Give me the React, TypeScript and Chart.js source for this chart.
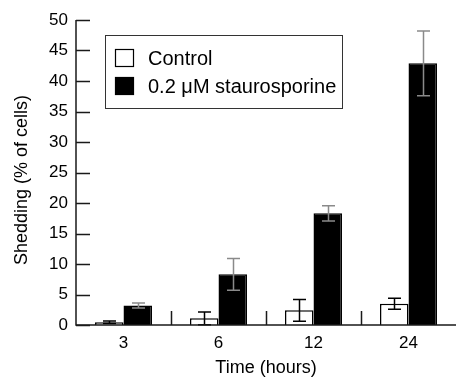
import React, { useEffect, useRef } from "react";
import { Chart, registerables } from "chart.js";

Chart.register(...registerables);

const categories = ["3", "6", "12", "24"];
const controlValues = [0.45, 1.1, 2.4, 3.5];
const controlErrors = [0.2, 1.05, 1.8, 0.9];
const stauroValues = [3.2, 8.3, 18.3, 42.9];
const stauroErrors = [0.4, 2.6, 1.25, 5.3];
const seriesNames = ["Control", "0.2 \u03bcM staurosporine"];
const yTitle = "Shedding (% of cells)";
const xTitle = "Time (hours)";

const FONT = "'Liberation Sans', Arial, sans-serif";

const customPlugin = {
  id: "custom",
  afterDatasetsDraw(chart: any) {
    const ctx = chart.ctx as CanvasRenderingContext2D;
    const area = chart.chartArea;
    const yScale = chart.scales.y;
    const xScale = chart.scales.x;
    const errs = [controlErrors, stauroErrors];
    const vals = [controlValues, stauroValues];
    const errColors = ["#000000", "#8a8a8a"];
    ctx.save();
    // error bars
    [0, 1].forEach((di) => {
      const meta = chart.getDatasetMeta(di);
      meta.data.forEach((el: any, i: number) => {
        const v = vals[di][i];
        const e = errs[di][i];
        const yt = yScale.getPixelForValue(v + e);
        const yb = yScale.getPixelForValue(Math.max(v - e, 0));
        const x = Math.round(el.x) + 0.5;
        ctx.strokeStyle = errColors[di];
        ctx.lineWidth = 1.5;
        ctx.beginPath();
        ctx.moveTo(x, yt);
        ctx.lineTo(x, yb);
        ctx.moveTo(x - 6.5, yt);
        ctx.lineTo(x + 6.5, yt);
        ctx.moveTo(x - 6.5, yb);
        ctx.lineTo(x + 6.5, yb);
        ctx.stroke();
      });
    });
    // axes
    ctx.strokeStyle = "#1a1a1a";
    ctx.lineWidth = 1.5;
    ctx.beginPath();
    ctx.moveTo(area.left, area.top);
    ctx.lineTo(area.left, area.bottom);
    ctx.lineTo(chart.width, area.bottom);
    ctx.stroke();
    // y ticks inward
    ctx.beginPath();
    yScale.ticks.forEach((t: any) => {
      const y = Math.round(yScale.getPixelForValue(t.value)) + 0.5;
      ctx.moveTo(area.left, y);
      ctx.lineTo(area.left + 14, y);
    });
    ctx.stroke();
    // x separators
    ctx.beginPath();
    for (let i = 1; i < categories.length; i++) {
      const x =
        Math.round((xScale.getPixelForValue(i - 1) + xScale.getPixelForValue(i)) / 2) + 0.5;
      ctx.moveTo(x, area.bottom);
      ctx.lineTo(x, area.bottom - 14);
    }
    ctx.stroke();
    // titles
    ctx.fillStyle = "#000";
    ctx.font = `18px ${FONT}`;
    ctx.textAlign = "center";
    ctx.textBaseline = "alphabetic";
    ctx.fillText(xTitle, (area.left + area.right) / 2, 373);
    ctx.save();
    ctx.translate(27, 180);
    ctx.rotate(-Math.PI / 2);
    ctx.fillText(yTitle, 0, 0);
    ctx.restore();
    // legend
    ctx.strokeStyle = "#333";
    ctx.lineWidth = 1;
    ctx.strokeRect(105.5, 35.5, 237, 73);
    const rows = [58, 86];
    const fills = ["#ffffff", "#000000"];
    rows.forEach((cy, i) => {
      ctx.fillStyle = fills[i];
      ctx.fillRect(115, cy - 9, 19, 18);
      ctx.strokeStyle = "#000";
      ctx.lineWidth = 1.2;
      ctx.strokeRect(115.5, cy - 8.5, 18, 17);
      ctx.fillStyle = "#000";
      ctx.font = `20px ${FONT}`;
      ctx.textAlign = "left";
      ctx.textBaseline = "middle";
      ctx.fillText(seriesNames[i], 148, cy + 1);
    });
    ctx.restore();
  },
};

export default function App() {
  const ref = useRef<HTMLCanvasElement>(null);
  useEffect(() => {
    document.body.style.margin = "0";
    document.body.style.overflow = "hidden";
    const chart = new Chart(ref.current!, {
      type: "bar",
      data: {
        labels: categories,
        datasets: [
          {
            label: seriesNames[0],
            data: controlValues,
            backgroundColor: "#ffffff",
            borderColor: "#000000",
            borderWidth: 1.5,
          },
          {
            label: seriesNames[1],
            data: stauroValues,
            backgroundColor: "#000000",
            borderColor: "#000000",
            borderWidth: 1.5,
          },
        ],
      },
      options: {
        responsive: false,
        animation: false,
        devicePixelRatio: 1,
        layout: { padding: { top: 20, right: -3, left: 0, bottom: 0 } },
        plugins: { legend: { display: false }, tooltip: { enabled: false } },
        datasets: { bar: { categoryPercentage: 0.6, barPercentage: 1 } },
        scales: {
          x: {
            grid: { display: false, drawTicks: false },
            border: { display: false },
            ticks: { color: "#000", font: { family: FONT, size: 17 }, padding: 8 },
            afterFit: (s: any) => {
              s.height = 53;
            },
          },
          y: {
            min: 0,
            max: 50,
            grid: { display: false, drawTicks: false },
            border: { display: false },
            ticks: {
              stepSize: 5,
              color: "#000",
              font: { family: FONT, size: 17 },
              padding: 8,
            },
            afterFit: (s: any) => {
              s.width = 76;
            },
          },
        },
      },
      plugins: [customPlugin],
    });
    return () => chart.destroy();
  }, []);
  return (
    <div style={{ width: 456, height: 378 }}>
      <canvas ref={ref} width={456} height={378} />
    </div>
  );
}
